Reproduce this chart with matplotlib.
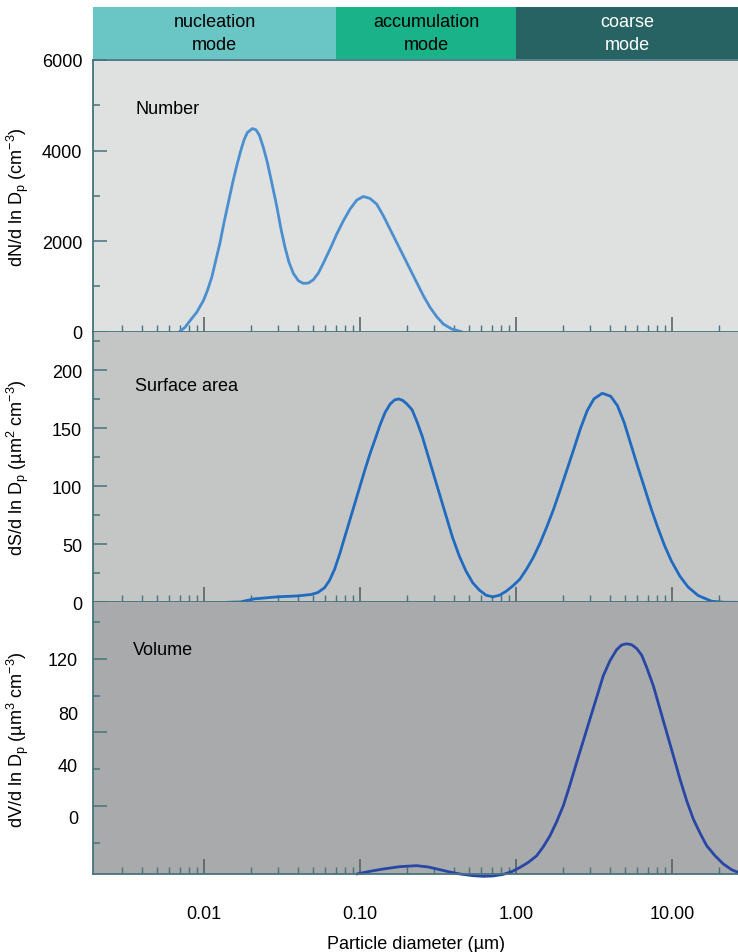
import matplotlib
matplotlib.use('Agg')
import matplotlib.pyplot as plt
from matplotlib.ticker import FixedLocator, NullFormatter

plt.rcParams['font.family'] = ['Liberation Sans', 'DejaVu Sans']
plt.rcParams['mathtext.fontset'] = 'custom'
plt.rcParams['mathtext.rm'] = 'Liberation Sans'
plt.rcParams['mathtext.default'] = 'regular'

# Particle size modes (µm)
MODE_NAMES = ['nucleation\nmode', 'accumulation\nmode', 'coarse\nmode']
MODE_EDGES = [0.00195, 0.07, 1.0, 26.5]
MODE_COLORS = ['#6ac6c5', '#1ab288', '#266362']
MODE_TEXT_COLORS = ['black', 'black', 'white']

# Number distribution, dN/dlnDp (cm-3)
NUMBER_D = [0.00695, 0.00755, 0.00813, 0.00897, 0.0099, 0.0105, 0.0112, 0.01188,
            0.01267, 0.01343, 0.01432, 0.01527, 0.0162, 0.01718, 0.01805, 0.01896,
            0.02041, 0.02155, 0.02263, 0.02401, 0.02547, 0.02716, 0.02922, 0.03115,
            0.03305, 0.03506, 0.03737, 0.04025, 0.04333, 0.04665, 0.05022, 0.05408,
            0.05821, 0.06423, 0.07087, 0.07818, 0.08627, 0.09521, 0.105, 0.1159,
            0.1279, 0.1411, 0.1557, 0.1718, 0.1896, 0.2092, 0.2308, 0.2547, 0.281,
            0.3101, 0.3421, 0.387, 0.4484]
NUMBER_V = [0, 96, 243, 427, 685, 905, 1199, 1567,
            1971, 2413, 2854, 3295, 3663, 3993, 4236, 4398,
            4486, 4457, 4339, 4067, 3736, 3295, 2780, 2265,
            1861, 1530, 1288, 1126, 1067, 1074, 1148, 1295,
            1515, 1824, 2155, 2449, 2707, 2905, 2986, 2942,
            2817, 2560, 2265, 1971, 1677, 1383, 1089, 795, 538,
            332, 170, 60, 0]

# Surface area distribution, dS/dlnDp (µm2 cm-3)
SURFACE_D = [0.01401, 0.01709, 0.02085, 0.02953, 0.03978, 0.04853, 0.0536, 0.05921,
             0.06378, 0.06873, 0.07404, 0.07976, 0.08596, 0.0926, 0.09977, 0.1075,
             0.1158, 0.1248, 0.1344, 0.1448, 0.156, 0.1664, 0.1767, 0.1875, 0.2,
             0.2156, 0.2322, 0.2502, 0.2696, 0.2904, 0.3129, 0.3371, 0.3632, 0.3914,
             0.4321, 0.4774, 0.5274, 0.5823, 0.6432, 0.7106, 0.7847, 0.8668, 0.9574,
             1.057, 1.168, 1.29, 1.425, 1.574, 1.739, 1.92, 2.121, 2.342, 2.588,
             2.858, 3.156, 3.573, 4.047, 4.47, 4.936, 5.453, 6.024, 6.652, 7.347,
             8.117, 8.964, 9.899, 11.21, 12.69, 14.73, 17.97, 21.93, 26.1]
SURFACE_V = [0, 0.3, 2.9, 4.7, 5.5, 6.7, 8.4, 12.5,
             18.9, 28.5, 41.5, 56.1, 70.6, 85.1, 99.6, 114.1,
             127.8, 140.2, 152.7, 163.5, 170.7, 174.2, 175.1, 173.9, 170.7,
             165.8, 155.3, 143.2, 128.6, 114.1, 99.6, 85.1, 70.6, 56.1,
             40.1, 27.0, 16.9, 10.5, 6.1, 4.7, 6.1, 9.6, 14.3,
             19.8, 28.5, 38.6, 50.8, 64.8, 79.9, 96.7, 114.1, 131.5, 149.5,
             164.9, 175.1, 180.0, 177.4, 169.3, 154.8, 135.9, 117.0, 99.0, 80.7,
             64.2, 48.8, 35.7, 22.7, 13.1, 5.8, 0.9, 0, 0]

# Volume distribution, dV/dlnDp (µm3 cm-3), read in the panel's own tick units
VOLUME_D = [0.09519, 0.1159, 0.1411, 0.1805, 0.2308, 0.2742, 0.3257, 0.3775,
            0.4375, 0.5327, 0.6173, 0.7154, 0.8294, 0.938, 1.061, 1.2, 1.357,
            1.497, 1.652, 1.823, 2.011, 2.219, 2.448, 2.702, 2.981, 3.289, 3.629,
            4.004, 4.419, 4.757, 5.122, 5.513, 5.935, 6.391, 6.879, 7.591, 8.378,
            9.243, 10.2, 11.25, 12.42, 13.7, 15.12, 16.68, 18.87, 21.33, 24.13, 26.49]
VOLUME_V = [-55.4, -53.2, -51.3, -49.4, -48.6, -49.7, -51.9, -53.8,
            -55.4, -56.8, -57.3, -57.0, -55.7, -53.5, -50.0, -45.9, -40.5,
            -33.1, -24.2, -12.7, 0.3, 17.4, 35.6, 53.3, 71.0, 88.6, 106.3,
            118.5, 127.5, 131.3, 132.3, 131.5, 128.5, 123.1, 113.1, 98.1, 79.1,
            60.1, 41.1, 22.0, 4.4, -10.6, -22.0, -32.3, -40.5, -47.2, -51.9, -54.0]

X_TICKS = [0.01, 0.1, 1, 10]
X_TICK_LABELS = ['0.01', '0.10', '1.00', '10.00']
X_MINOR = [m * 10.0 ** e for e in range(-3, 2) for m in range(2, 10)]
X_MINOR = [v for v in X_MINOR if v > 0.0025]

SPINE = '#46737e'
FS = 13

fig = plt.figure(figsize=(7.38, 9.53), dpi=100)
left, width = 93.3 / 738, 1 - 93.3 / 738
H = 953


def frac(top_px, bot_px):
    return [left, 1 - bot_px / H, width, (bot_px - top_px) / H]


# mode header
hax = fig.add_axes(frac(8, 60))
hax.set_xscale('log')
hax.set_xlim(MODE_EDGES[0], MODE_EDGES[-1])
hax.set_ylim(0, 1)
for i, name in enumerate(MODE_NAMES):
    lo, hi = MODE_EDGES[i], MODE_EDGES[i + 1]
    hax.axvspan(lo, hi, color=MODE_COLORS[i], lw=0)
    hax.text((lo * hi) ** 0.5, 0.5, name, ha='center', va='center',
             color=MODE_TEXT_COLORS[i], fontsize=FS, linespacing=1.5)
hax.axis('off')


def style_panel(ax, face, top_spine):
    ax.set_facecolor(face)
    ax.set_xscale('log')
    ax.set_xlim(MODE_EDGES[0], MODE_EDGES[-1])
    ax.spines['right'].set_visible(False)
    ax.spines['top'].set_visible(top_spine)
    for s in ['left', 'bottom', 'top']:
        ax.spines[s].set_color(SPINE)
        ax.spines[s].set_linewidth(1.3)
    ax.set_xticks(X_TICKS)
    ax.xaxis.set_minor_locator(FixedLocator(X_MINOR))
    ax.xaxis.set_minor_formatter(NullFormatter())
    ax.tick_params(axis='x', which='major', direction='in', length=10.8, width=1.1,
                   color='#4f5b5e', labelsize=FS, pad=22)
    ax.tick_params(axis='x', which='minor', direction='in', length=5.3, width=1.0,
                   color=SPINE)
    ax.tick_params(axis='y', which='major', direction='in', length=10, width=1.1,
                   color=SPINE, labelsize=FS, pad=8)
    ax.tick_params(axis='y', which='minor', direction='in', length=5, width=1.1,
                   color=SPINE)


line_kw = dict(lw=2.0, solid_capstyle='round', solid_joinstyle='round')

# Number panel
ax1 = fig.add_axes(frac(61, 332.7))
style_panel(ax1, '#dfe0e0', True)
ax1.plot(NUMBER_D, NUMBER_V, color='#4a8fd0', **line_kw)
ax1.set_ylim(0, 6000)
ax1.set_yticks([0, 2000, 4000, 6000])
ax1.set_yticks([1000, 3000, 5000], minor=True)
ax1.set_xticklabels([])
ax1.text(0.065, 0.82, 'Number', transform=ax1.transAxes, fontsize=FS, va='center')
ax1.set_ylabel('dN/d ln D$_p$ (cm$^{-3}$)', fontsize=FS)
ax1.yaxis.set_label_coords(-0.097, 0.5)

# Surface panel
ax2 = fig.add_axes(frac(332.7, 603.3))
style_panel(ax2, '#c4c5c5', False)
ax2.plot(SURFACE_D, SURFACE_V, color='#1f6bbf', **line_kw)
ax2.set_ylim(0, 233)
ax2.set_yticks([0, 50, 100, 150, 200])
ax2.set_yticks([25, 75, 125, 175, 225], minor=True)
ax2.set_xticklabels([])
ax2.text(0.065, 0.803, 'Surface area', transform=ax2.transAxes, fontsize=FS, va='center')
ax2.set_ylabel('dS/d ln D$_p$ (µm$^2$ cm$^{-3}$)', fontsize=FS)
ax2.yaxis.set_label_coords(-0.097, 0.5)

# Volume panel
ax3 = fig.add_axes(frac(603.3, 875))
style_panel(ax3, '#a9aaac', False)
ax3.plot(VOLUME_D, VOLUME_V, color='#2846a6', clip_on=False, **line_kw)
ax3.set_ylim(-55.4, 166.1)
ax3.set_yticks([0, 60, 120])
ax3.set_yticklabels([])
ax3.set_yticks([-30, 30, 90, 150], minor=True)
ax3.set_xticks(X_TICKS)
ax3.set_xticklabels(X_TICK_LABELS)
sec = ax3.secondary_yaxis('left')
sec.set_yticks([120.6, 76.6, 34.2, -8.2])
sec.set_yticklabels(['120', '80', '40', '0'])
sec.tick_params(length=0, labelsize=FS, pad=11)
sec.spines['left'].set_visible(False)
ax3.text(0.062, 0.828, 'Volume', transform=ax3.transAxes, fontsize=FS, va='center')
ax3.set_ylabel('dV/d ln D$_p$ (µm$^3$ cm$^{-3}$)', fontsize=FS)
ax3.yaxis.set_label_coords(-0.097, 0.5)
ax3.set_xlabel('Particle diameter (µm)', fontsize=FS, labelpad=10)

fig.savefig('out.png', dpi=100)
